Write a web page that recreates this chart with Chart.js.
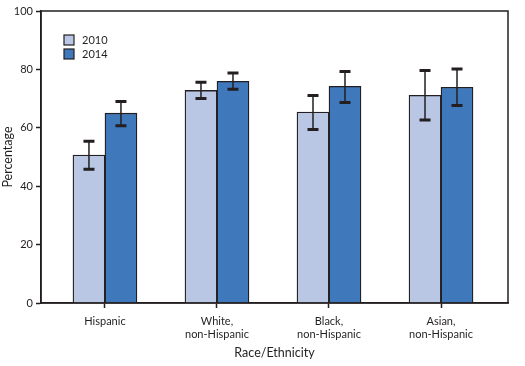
<!DOCTYPE html>
<html>
<head>
<meta charset="utf-8">
<script src="https://cdn.jsdelivr.net/npm/chart.js@4"></script>
<style>
  body { margin: 0; background: #fff; }
  canvas { display: block; }
</style>
</head>
<body>
<canvas id="raceChart" width="525" height="366"></canvas>
<script>
// values
const categories = ['Hispanic', ['White,', 'non-Hispanic'], ['Black,', 'non-Hispanic'], ['Asian,', 'non-Hispanic']];
const years = ['2010', '2014'];
const values2010 = [50.7, 72.8, 65.4, 71.1];
const values2014 = [65.0, 75.9, 74.2, 73.9];
const low2010 = [45.8, 70.0, 59.4, 62.7];
const high2010 = [55.4, 75.6, 71.1, 79.6];
const low2014 = [60.7, 73.2, 68.7, 67.6];
const high2014 = [69.0, 78.8, 79.3, 80.1];
const yTicks = [0, 20, 40, 60, 80, 100];

const ink = '#231f20';
const font = "Lato, 'Liberation Sans', sans-serif";

function toPoints(vals) {
    return vals.map((v, i) => ({ x: i, y: v }));
}

// box around the plot + error bars + legend inside the plot
const extras = {
    id: 'extras',
    afterDatasetsDraw(chart) {
        const ctx = chart.ctx;
        const y = chart.scales.y;
        const a = chart.chartArea;

        ctx.save();
        ctx.strokeStyle = ink;
        ctx.lineWidth = 1.5;
        ctx.strokeRect(a.left, a.top, a.right - a.left, a.bottom - a.top);

        chart.data.datasets.forEach((ds, di) => {
            const meta = chart.getDatasetMeta(di);
            meta.data.forEach((bar, i) => {
                const cx = bar.x;
                const yl = y.getPixelForValue(ds.low[i]);
                const yh = y.getPixelForValue(ds.high[i]);
                ctx.lineWidth = 1.5;
                ctx.beginPath();
                ctx.moveTo(cx, yl);
                ctx.lineTo(cx, yh);
                ctx.stroke();
                ctx.lineWidth = 3;
                ctx.beginPath();
                ctx.moveTo(cx - 5.5, yl);
                ctx.lineTo(cx + 5.5, yl);
                ctx.moveTo(cx - 5.5, yh);
                ctx.lineTo(cx + 5.5, yh);
                ctx.stroke();
            });
        });

        // legend
        ctx.font = '11px ' + font;
        ctx.textBaseline = 'middle';
        chart.data.datasets.forEach((ds, di) => {
            const top = a.top + 24 + di * 14;
            ctx.fillStyle = ds.backgroundColor;
            ctx.fillRect(64, top, 10, 10);
            ctx.lineWidth = 1.2;
            ctx.strokeStyle = ink;
            ctx.strokeRect(64, top, 10, 10);
            ctx.fillStyle = ink;
            ctx.fillText(ds.label, 82, top + 5.5);
        });
        ctx.restore();
    }
};

const ctx = document.getElementById('raceChart').getContext('2d');
window.raceChart = new Chart(ctx, {
    type: 'bar',
    data: {
        datasets: [{
            label: years[0],
            data: toPoints(values2010),
            low: low2010,
            high: high2010,
            backgroundColor: '#b9c7e5',
            borderColor: ink,
            borderWidth: 1.3,
            barThickness: 32
        }, {
            label: years[1],
            data: toPoints(values2014),
            low: low2014,
            high: high2014,
            backgroundColor: '#3f79bc',
            borderColor: ink,
            borderWidth: 1.3,
            barThickness: 32
        }]
    },
    options: {
        responsive: false,
        animation: false,
        layout: { padding: { top: 11, right: 17, left: 0, bottom: 0 } },
        plugins: {
            legend: { display: false },
            tooltip: { enabled: false }
        },
        scales: {
            x: {
                type: 'linear',
                offset: false,
                min: -0.571,
                max: 3.598,
                afterBuildTicks(scale) {
                    scale.ticks = categories.map((c, i) => ({ value: i }));
                },
                afterFit(scale) { scale.height = 63; },
                grid: { offset: false, drawOnChartArea: false, tickLength: 5, color: ink, tickWidth: 1.5 },
                border: { color: ink, width: 1.5 },
                ticks: {
                    color: ink,
                    padding: 7,
                    autoSkip: false,
                    maxRotation: 0,
                    font: { family: font, size: 11 },
                    callback: (v) => categories[v]
                },
                title: {
                    display: true,
                    text: 'Race/Ethnicity',
                    color: ink,
                    font: { family: font, size: 12.5 },
                    padding: { top: 0, bottom: 6 }
                }
            },
            y: {
                min: 0,
                max: 100,
                afterBuildTicks(scale) {
                    scale.ticks = yTicks.map(v => ({ value: v }));
                },
                afterFit(scale) { scale.width = 41; },
                grid: { drawOnChartArea: false, tickLength: 5, color: ink, tickWidth: 1.5 },
                border: { color: ink, width: 1.5 },
                ticks: {
                    color: ink,
                    padding: 3,
                    font: { family: font, size: 11 }
                },
                title: {
                    display: true,
                    text: 'Percentage',
                    color: ink,
                    font: { family: font, size: 12.5 },
                    padding: { top: 0, bottom: 2 }
                }
            }
        }
    },
    plugins: [extras]
});
</script>
</body>
</html>
